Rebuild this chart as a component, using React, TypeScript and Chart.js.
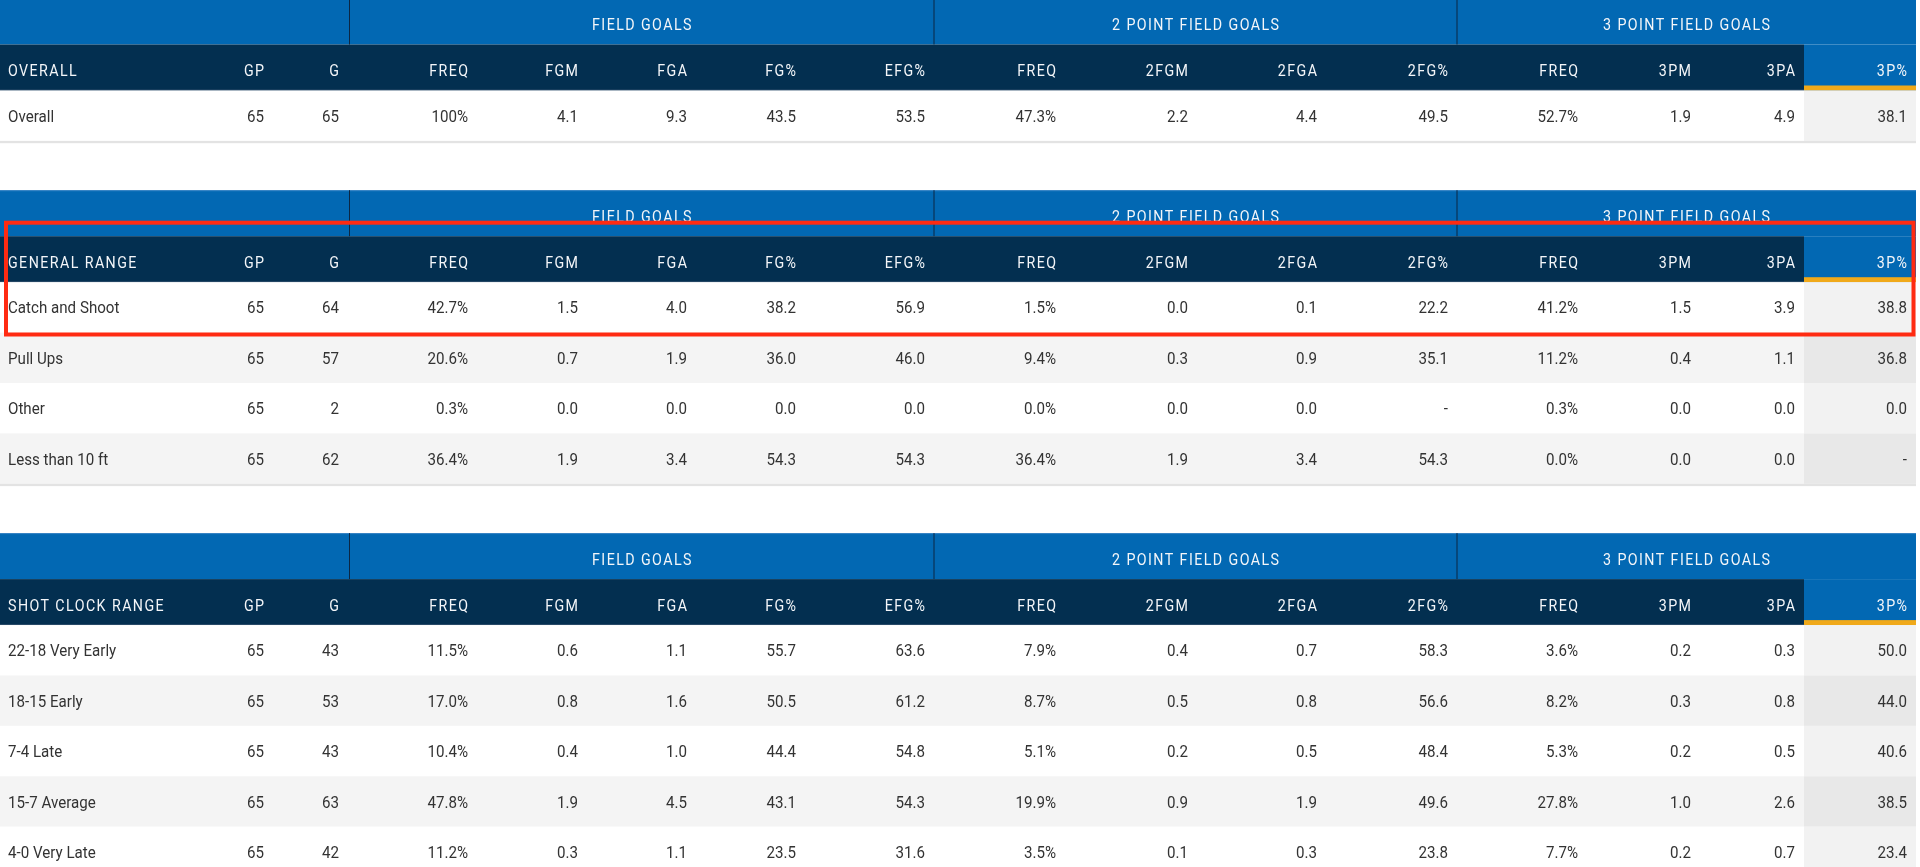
import React, { useEffect, useRef } from "react";
import { Chart, registerables } from "chart.js";

Chart.register(...registerables);

// ---------- DATA ----------
const groupHeaders = ["FIELD GOALS", "2 POINT FIELD GOALS", "3 POINT FIELD GOALS"];
const columnHeaders = ["GP", "G", "FREQ", "FGM", "FGA", "FG%", "EFG%", "FREQ", "2FGM", "2FGA", "2FG%", "FREQ", "3PM", "3PA", "3P%"];
const sectionTitles = ["OVERALL", "GENERAL RANGE", "SHOT CLOCK RANGE"];

const overallLabels = ["Overall"];
const overallValues = [
  ["65", "65", "100%", "4.1", "9.3", "43.5", "53.5", "47.3%", "2.2", "4.4", "49.5", "52.7%", "1.9", "4.9", "38.1"],
];

const generalRangeLabels = ["Catch and Shoot", "Pull Ups", "Other", "Less than 10 ft"];
const generalRangeValues = [
  ["65", "64", "42.7%", "1.5", "4.0", "38.2", "56.9", "1.5%", "0.0", "0.1", "22.2", "41.2%", "1.5", "3.9", "38.8"],
  ["65", "57", "20.6%", "0.7", "1.9", "36.0", "46.0", "9.4%", "0.3", "0.9", "35.1", "11.2%", "0.4", "1.1", "36.8"],
  ["65", "2", "0.3%", "0.0", "0.0", "0.0", "0.0", "0.0%", "0.0", "0.0", "-", "0.3%", "0.0", "0.0", "0.0"],
  ["65", "62", "36.4%", "1.9", "3.4", "54.3", "54.3", "36.4%", "1.9", "3.4", "54.3", "0.0%", "0.0", "0.0", "-"],
];

const shotClockLabels = ["22-18 Very Early", "18-15 Early", "7-4 Late", "15-7 Average", "4-0 Very Late"];
const shotClockValues = [
  ["65", "43", "11.5%", "0.6", "1.1", "55.7", "63.6", "7.9%", "0.4", "0.7", "58.3", "3.6%", "0.2", "0.3", "50.0"],
  ["65", "53", "17.0%", "0.8", "1.6", "50.5", "61.2", "8.7%", "0.5", "0.8", "56.6", "8.2%", "0.3", "0.8", "44.0"],
  ["65", "43", "10.4%", "0.4", "1.0", "44.4", "54.8", "5.1%", "0.2", "0.5", "48.4", "5.3%", "0.2", "0.5", "40.6"],
  ["65", "63", "47.8%", "1.9", "4.5", "43.1", "54.3", "19.9%", "0.9", "1.9", "49.6", "27.8%", "1.0", "2.6", "38.5"],
  ["65", "42", "11.2%", "0.3", "1.1", "23.5", "31.6", "3.5%", "0.1", "0.3", "23.8", "7.7%", "0.2", "0.7", "23.4"],
];

// ---------- LAYOUT (scale units) ----------
const W = 1920;
const H = 867;
const TABLE_RIGHT = 1916;
const NAME_X = 8;
const COL_RIGHT = [264, 339, 468, 578, 687, 796, 925, 1056, 1188, 1317, 1448, 1578, 1691, 1795, 1907];
const GROUP_EDGES = [349.5, 934, 1457, TABLE_RIGHT];
const HILITE_LEFT = 1804;
const BAND_H = 46;
const HEAD_H = 46;
const ROW_H = 50.4;
const BORDER_H = 2.3;
const GAP = 47;
const FIRST_TOP = -1.5;
const MARK_BOX = { x0: 6, y0: 222.7, x1: 1913.5, y1: 334.5 };

const C_BLUE = "#0268b3";
const C_NAVY = "#032f50";
const C_DIV = "#0b2744";
const C_YELLOW = "#f0a91a";
const C_ROW_ALT = "#f4f4f4";
const C_HI_WHITE = "#f2f2f2";
const C_HI_ALT = "#e8e8e8";
const C_TEXT = "#333333";
const C_HEAD_TEXT = "#f4f6f9";
const C_BORDER = "#e3e3e3";
const C_MARK = "#ff2b12";

const FONT_FAMILY = 'Roboto, "Noto Sans", "DejaVu Sans", sans-serif';
const SX = 0.89;

const sections = [
  { title: sectionTitles[0], labels: overallLabels, rows: overallValues },
  { title: sectionTitles[1], labels: generalRangeLabels, rows: generalRangeValues },
  { title: sectionTitles[2], labels: shotClockLabels, rows: shotClockValues },
];

function drawText(
  ctx: CanvasRenderingContext2D,
  text: string,
  x: number,
  yCenter: number,
  align: "left" | "right" | "center",
  size: number,
  color: string,
  spacing: number,
  weight = "400"
) {
  ctx.save();
  ctx.font = `${weight} ${size}px ${FONT_FAMILY}`;
  (ctx as any).letterSpacing = `${spacing}px`;
  ctx.fillStyle = color;
  ctx.textAlign = "left";
  ctx.textBaseline = "alphabetic";
  const raw = ctx.measureText(text).width - (spacing > 0 ? spacing : 0);
  const w = raw * SX;
  let left = x;
  if (align === "right") left = x - w;
  else if (align === "center") left = x - w / 2;
  ctx.translate(left, yCenter + size * 0.355);
  ctx.scale(SX, 1);
  ctx.fillText(text, 0, 0);
  ctx.restore();
}

const tablePlugin = {
  id: "tablePlugin",
  afterDraw(chart: any) {
    const ctx: CanvasRenderingContext2D = chart.ctx;
    const xs = chart.scales.x;
    const ys = chart.scales.y;
    const px = (v: number) => xs.getPixelForValue(v);
    const py = (v: number) => ys.getPixelForValue(v);
    const rect = (x0: number, y0: number, x1: number, y1: number, color: string) => {
      const a = px(x0), b = py(y0), c = px(x1), d = py(y1);
      ctx.fillStyle = color;
      ctx.fillRect(Math.min(a, c), Math.min(b, d), Math.abs(c - a), Math.abs(d - b));
    };

    let top = FIRST_TOP;
    sections.forEach((sec, si) => {
      const bandTop = top;
      const headTop = bandTop + BAND_H;
      const rowsTop = headTop + HEAD_H;

      rect(0, bandTop, TABLE_RIGHT, headTop, C_BLUE);
      if (si > 0) rect(0, bandTop, TABLE_RIGHT, bandTop + 1, "#3a86c6");
      GROUP_EDGES.slice(0, 3).forEach((gx) => rect(gx - 0.5, bandTop, gx + 0.5, headTop, C_DIV));
      groupHeaders.forEach((g, gi) => {
        const cx = (GROUP_EDGES[gi] + GROUP_EDGES[gi + 1]) / 2;
        drawText(ctx, g, px(cx), py(bandTop + BAND_H / 2 + 3), "center", 16, C_HEAD_TEXT, 1.6);
      });

      rect(0, headTop, HILITE_LEFT, rowsTop, C_NAVY);
      rect(HILITE_LEFT, headTop, TABLE_RIGHT, rowsTop, C_BLUE);
      rect(HILITE_LEFT, rowsTop - 5, TABLE_RIGHT, rowsTop, C_YELLOW);
      rect(0, rowsTop - 1, HILITE_LEFT, rowsTop, "#2c4d6a");
      const hy = py(headTop + HEAD_H / 2 + 3);
      drawText(ctx, sec.title, px(NAME_X), hy, "left", 16, C_HEAD_TEXT, 1.6);
      columnHeaders.forEach((h, ci) => {
        drawText(ctx, h, px(COL_RIGHT[ci]), hy, "right", 16, C_HEAD_TEXT, 1.6);
      });

      sec.rows.forEach((vals, ri) => {
        const r0 = rowsTop + ri * ROW_H;
        const r1 = r0 + ROW_H;
        const alt = ri % 2 === 1;
        rect(0, r0, HILITE_LEFT, r1, alt ? C_ROW_ALT : "#ffffff");
        rect(HILITE_LEFT, r0, TABLE_RIGHT, r1, alt ? C_HI_ALT : C_HI_WHITE);
        const cy = py(r0 + ROW_H / 2);
        drawText(ctx, sec.labels[ri], px(NAME_X), cy, "left", 17, C_TEXT, 0);
        vals.forEach((v, ci) => {
          drawText(ctx, v, px(COL_RIGHT[ci]), cy, "right", 17, C_TEXT, 0);
        });
      });
      const bottom = rowsTop + sec.rows.length * ROW_H;
      rect(0, bottom, TABLE_RIGHT, bottom + BORDER_H, C_BORDER);
      top = bottom + BORDER_H + GAP;
    });

    ctx.save();
    ctx.strokeStyle = C_MARK;
    ctx.lineWidth = 4;
    const bx0 = px(MARK_BOX.x0), by0 = py(MARK_BOX.y0), bx1 = px(MARK_BOX.x1), by1 = py(MARK_BOX.y1);
    ctx.strokeRect(bx0, by0, bx1 - bx0, by1 - by0);
    ctx.restore();
  },
};

export default function App() {
  const canvasRef = useRef<HTMLCanvasElement | null>(null);

  useEffect(() => {
    document.body.style.margin = "0";
    const canvas = canvasRef.current;
    if (!canvas) return;
    const chart = new Chart(canvas, {
      type: "scatter",
      data: { datasets: [] },
      options: {
        animation: false,
        responsive: false,
        devicePixelRatio: 1,
        layout: { padding: 0 },
        plugins: { legend: { display: false }, tooltip: { enabled: false }, title: { display: false } },
        scales: {
          x: { type: "linear", min: 0, max: W, display: false },
          y: { type: "linear", min: 0, max: H, reverse: true, display: false },
        },
      },
      plugins: [tablePlugin],
    });
    return () => chart.destroy();
  }, []);

  return (
    <div style={{ position: "fixed", left: 0, top: 0, width: W, height: H, background: "#ffffff" }}>
      <canvas ref={canvasRef} width={W} height={H} style={{ display: "block", width: W, height: H }} />
    </div>
  );
}
